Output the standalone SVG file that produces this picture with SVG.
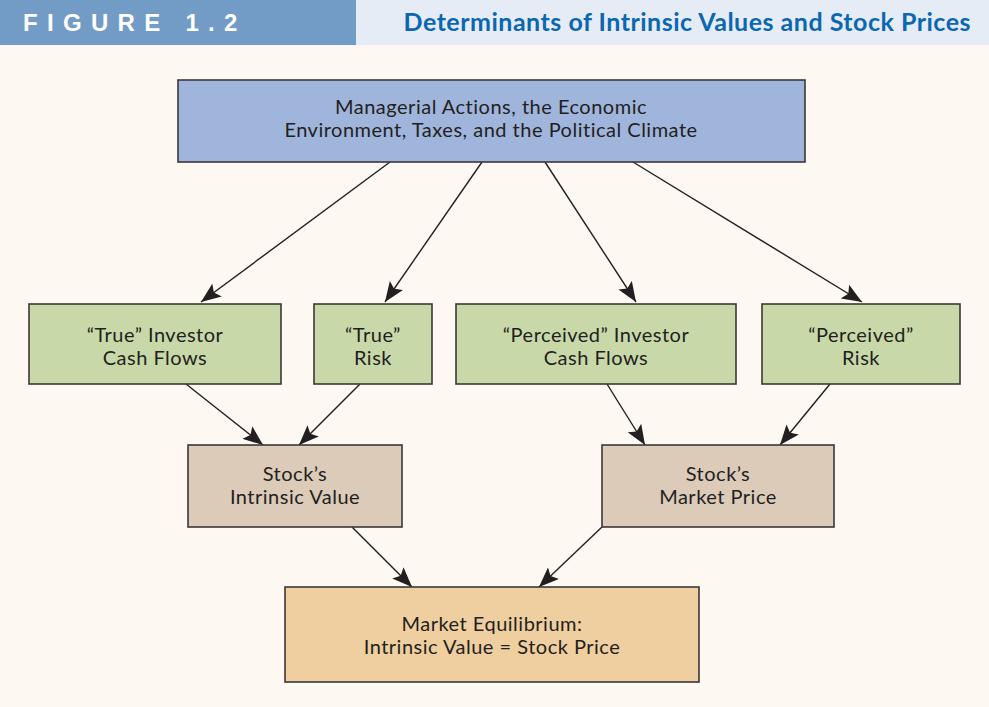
<svg xmlns="http://www.w3.org/2000/svg" width="989" height="707" viewBox="0 0 989 707">
<defs>
<marker id="ah" markerUnits="userSpaceOnUse" markerWidth="22" markerHeight="16" refX="20" refY="8" orient="auto">
<path d="M0,0 L20,8 L0,16 L4,8 Z" fill="#231f20"/>
</marker>
</defs>
<style>
.box{stroke:#3b3838;stroke-width:1.6}
.blue{fill:#a0b5dc}
.green{fill:#c8d8a9}
.tan{fill:#dccbb9}
.orange{fill:#efcea0}
.t{font-family:Lato,"Liberation Sans",sans-serif;font-size:20px;letter-spacing:0.5px;fill:#231f20;text-anchor:middle}
.c{stroke:#231f20;stroke-width:1.4;fill:none;marker-end:url(#ah)}
</style>
<rect x="0" y="0" width="989" height="707" fill="#fdf9f2"/>
<g id="header">
<rect x="0" y="0" width="356" height="45" fill="#729bc6"/>
<rect x="356" y="0" width="633" height="45" fill="#e6ecf6"/>
<text x="23" y="31" font-family="'Liberation Sans',sans-serif" font-weight="bold" font-size="24" fill="#ffffff" letter-spacing="9.3">FIGURE 1.2</text>
<text x="971" y="31" font-family="Lato,'Liberation Sans',sans-serif" font-weight="bold" font-size="25" fill="#0a67b0" text-anchor="end" letter-spacing="0.5">Determinants of Intrinsic Values and Stock Prices</text>
</g>
<g id="connectors">
<line class="c" x1="390" y1="162" x2="201" y2="302"/>
<line class="c" x1="482" y1="162" x2="385" y2="302"/>
<line class="c" x1="545" y1="162" x2="636" y2="302"/>
<line class="c" x1="633" y1="162" x2="862" y2="302"/>
<line class="c" x1="186" y1="384" x2="263" y2="445"/>
<line class="c" x1="360" y1="384" x2="299" y2="445"/>
<line class="c" x1="607" y1="384" x2="645" y2="445"/>
<line class="c" x1="830" y1="384" x2="780" y2="445"/>
<line class="c" x1="352" y1="527" x2="412" y2="587"/>
<line class="c" x1="602" y1="527" x2="539" y2="587"/>
</g>
<g id="top">
<rect class="box blue" x="178" y="80" width="627" height="82"/>
<text class="t" x="491" y="114">Managerial Actions, the Economic</text>
<text class="t" x="491" y="137">Environment, Taxes, and the Political Climate</text>
</g>
<g id="trueCF">
<rect class="box green" x="29" y="304" width="252" height="80"/>
<text class="t" x="155" y="342">“True” Investor</text>
<text class="t" x="155" y="365">Cash Flows</text>
</g>
<g id="trueRisk">
<rect class="box green" x="314" y="304" width="118" height="80"/>
<text class="t" x="373" y="342">“True”</text>
<text class="t" x="373" y="365">Risk</text>
</g>
<g id="percCF">
<rect class="box green" x="456" y="304" width="280" height="80"/>
<text class="t" x="596" y="342">“Perceived” Investor</text>
<text class="t" x="596" y="365">Cash Flows</text>
</g>
<g id="percRisk">
<rect class="box green" x="762" y="304" width="198" height="80"/>
<text class="t" x="861" y="342">“Perceived”</text>
<text class="t" x="861" y="365">Risk</text>
</g>
<g id="intrinsic">
<rect class="box tan" x="188" y="445" width="214" height="82"/>
<text class="t" x="295" y="481">Stock’s</text>
<text class="t" x="295" y="504">Intrinsic Value</text>
</g>
<g id="market">
<rect class="box tan" x="602" y="445" width="232" height="82"/>
<text class="t" x="718" y="481">Stock’s</text>
<text class="t" x="718" y="504">Market Price</text>
</g>
<g id="equilibrium">
<rect class="box orange" x="285" y="587" width="414" height="95"/>
<text class="t" x="492" y="631">Market Equilibrium:</text>
<text class="t" x="492" y="654">Intrinsic Value = Stock Price</text>
</g>
</svg>
